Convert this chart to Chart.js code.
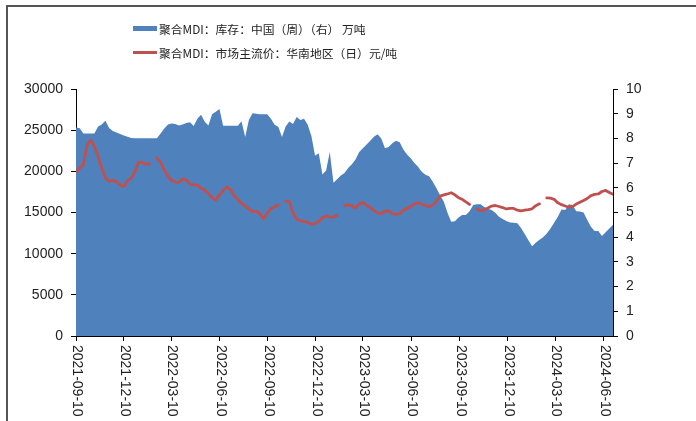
<!DOCTYPE html>
<html>
<head>
<meta charset="utf-8">
<script src="https://cdn.jsdelivr.net/npm/chart.js@4.4.1/dist/chart.umd.min.js"></script>
<style>
  html, body { margin: 0; padding: 0; background: #fff; }
  #wrap { position: relative; width: 696px; height: 421px; overflow: hidden; background: #fff; }
  #c { position: absolute; left: 0; top: 0; }
  #frame { position: absolute; left: 6px; top: 5px; width: 700px; height: 430px;
           border-left: 2px solid #555; border-top: 2px solid #555; pointer-events: none; }
  #legend { position: absolute; left: 133px; top: 18px; font-family: "Noto Sans CJK SC", sans-serif;
            font-size: 11.8px; color: #222; }
  .row { display: flex; align-items: center; height: 20px; margin-bottom: 4px; white-space: nowrap; }
  .sw { display: inline-block; width: 24px; margin-right: 2px; }
</style>
</head>
<body>
<div id="wrap">
  <canvas id="c" width="696" height="421"></canvas>
  <div id="frame"></div>
  <div id="legend"></div>
</div>
<script>
// ---- data ----
const weeks = [
'2021-09-10','2021-09-17','2021-09-24','2021-10-01','2021-10-08','2021-10-15','2021-10-22','2021-10-29','2021-11-05','2021-11-12','2021-11-19','2021-11-26','2021-12-03','2021-12-10','2021-12-17','2021-12-24','2021-12-31',
'2022-01-07','2022-01-14','2022-01-21','2022-01-28','2022-02-04','2022-02-11','2022-02-18','2022-02-25','2022-03-04','2022-03-11','2022-03-18','2022-03-25','2022-04-01','2022-04-08','2022-04-15','2022-04-22','2022-04-29','2022-05-06','2022-05-13','2022-05-20','2022-05-27','2022-06-03','2022-06-10','2022-06-17','2022-06-24','2022-07-01','2022-07-08','2022-07-15','2022-07-22','2022-07-29','2022-08-05','2022-08-12','2022-08-19','2022-08-26','2022-09-02','2022-09-09','2022-09-16','2022-09-23','2022-09-30','2022-10-07','2022-10-14','2022-10-21','2022-10-28','2022-11-04','2022-11-11','2022-11-18','2022-11-25','2022-12-02','2022-12-09','2022-12-16','2022-12-23','2022-12-30',
'2023-01-06','2023-01-13','2023-01-20','2023-01-27','2023-02-03','2023-02-10','2023-02-17','2023-02-24','2023-03-03','2023-03-10','2023-03-17','2023-03-24','2023-03-31','2023-04-07','2023-04-14','2023-04-21','2023-04-28','2023-05-05','2023-05-12','2023-05-19','2023-05-26','2023-06-02','2023-06-09','2023-06-16','2023-06-23','2023-06-30','2023-07-07','2023-07-14','2023-07-21','2023-07-28','2023-08-04','2023-08-11','2023-08-18','2023-08-25','2023-09-01','2023-09-08','2023-09-15','2023-09-22','2023-09-29','2023-10-06','2023-10-13','2023-10-20','2023-10-27','2023-11-03','2023-11-10','2023-11-17','2023-11-24','2023-12-01','2023-12-08','2023-12-15','2023-12-22','2023-12-29',
'2024-01-05','2024-01-12','2024-01-19','2024-01-26','2024-02-02','2024-02-09','2024-02-16','2024-02-23','2024-03-01','2024-03-08','2024-03-15','2024-03-22','2024-03-29','2024-04-05','2024-04-12','2024-04-19','2024-04-26','2024-05-03','2024-05-10','2024-05-17','2024-05-24','2024-05-31','2024-06-07','2024-06-14','2024-06-21','2024-06-28'
];

// 聚合MDI 库存（万吨，右轴）
const inventory = [
8.44,8.41,8.2,8.2,8.2,8.2,8.48,8.56,8.71,8.42,
8.3,8.24,8.18,8.12,8.07,8.02,8.01,8.01,8.01,8.01,
8.01,8.01,8.01,8.2,8.4,8.56,8.6,8.58,8.52,8.56,
8.62,8.65,8.5,8.8,8.96,8.67,8.52,8.98,9.08,9.19,
8.51,8.51,8.51,8.51,8.51,8.69,8.06,8.75,9.02,9.0,
8.98,8.98,8.98,8.8,8.55,8.47,8.06,8.48,8.68,8.58,
8.87,8.75,8.8,8.55,8.1,7.3,7.4,6.54,6.7,7.45,
6.2,6.35,6.5,6.6,6.8,6.95,7.15,7.45,7.6,7.75,
7.9,8.07,8.17,8.0,7.6,7.65,7.8,7.9,7.84,7.55,
7.35,7.2,7.0,6.85,6.65,6.53,6.47,6.25,5.98,5.7,
5.44,4.99,4.63,4.65,4.8,4.9,4.9,5.05,5.3,5.33,
5.33,5.22,5.15,5.1,4.99,4.83,4.74,4.66,4.6,4.58,
4.56,4.37,4.13,3.88,3.63,3.78,3.9,4.0,4.15,4.35,
4.58,4.83,5.12,5.1,5.33,5.3,5.05,5.04,5.0,4.7,
4.42,4.25,4.25,4.05,4.2,4.35,4.5
];

// 聚合MDI 华南市场主流价（元/吨，左轴）
const price = [
19940,20400,20800,23200,23800,23000,21800,20400,19200,18800,
18900,18750,18350,18150,18850,19140,19950,21100,21100,20850,
20900,null,21640,21100,20150,19400,18900,18700,18650,19100,
18950,18450,18350,18350,17950,17720,17300,16800,16500,17150,
17700,18100,17800,17050,16550,16100,15800,15450,15120,15150,
14850,14250,14950,15450,15700,15950,null,16380,16320,14950,
14200,14000,13900,13800,13570,13650,13950,14350,14580,14450,
14450,14680,null,15850,15950,15800,15550,16050,16200,15900,
15600,15250,14950,14850,15150,15200,14850,14770,14850,15290,
15500,15720,16050,16200,16000,15850,15700,15900,16350,17000,
17130,17250,17400,17150,16800,16600,16300,15980,null,15420,
15230,15300,15550,15780,15850,15730,15600,15430,15500,15500,
15280,15200,15280,15340,15450,15830,16050,null,16780,16740,
16600,16170,15950,15790,15640,15700,16030,16250,16460,16700,
17050,17200,17250,17550,17680,17420,17220
];

const xTickLabels = ['2021-09-10','2021-12-10','2022-03-10','2022-06-10','2022-09-10','2022-12-10',
                     '2023-03-10','2023-06-10','2023-09-10','2023-12-10','2024-03-10','2024-06-10'];
const leftTicks = [0,5000,10000,15000,20000,25000,30000];
const rightTicks = [0,1,2,3,4,5,6,7,8,9,10];

const seriesNames = ['聚合MDI：库存：中国（周）（右） 万吨', '聚合MDI：市场主流价：华南地区（日）元/吨'];
const seriesColors = ['#4F81BD', '#C0504D'];

// ---- helpers ----
function dayOf(s) {
  const [y, m, d] = s.split('-').map(Number);
  return (Date.UTC(y, m - 1, d) - Date.UTC(2021, 8, 10)) / 86400000;
}
const xs = weeks.map(dayOf);
const tickFont = '14px "Liberation Sans", Arial, sans-serif';
const textColor = '#222';

const xLabelPlugin = {
  id: 'xLabels',
  afterDraw(chart) {
    const sx = chart.scales.x;
    const ctx = chart.ctx;
    ctx.save();
    ctx.font = tickFont;
    ctx.fillStyle = textColor;
    ctx.textAlign = 'left';
    ctx.textBaseline = 'middle';
    xTickLabels.forEach(l => {
      const px = sx.getPixelForValue(dayOf(l));
      ctx.save();
      ctx.translate(px + 1, sx.top + 9);
      ctx.rotate(Math.PI / 2);
      ctx.fillText(l, 0, 0);
      ctx.restore();
    });
    ctx.restore();
  }
};

const chart = new Chart(document.getElementById('c'), {
  type: 'line',
  data: {
    datasets: [
      {
        label: seriesNames[0],
        data: xs.map((x, i) => ({ x, y: inventory[i] })),
        yAxisID: 'yR',
        backgroundColor: seriesColors[0],
        borderColor: seriesColors[0],
        borderWidth: 0,
        fill: 'origin',
        pointRadius: 0,
        tension: 0,
        order: 2
      },
      {
        label: seriesNames[1],
        data: xs.map((x, i) => ({ x, y: price[i] })),
        yAxisID: 'y',
        borderColor: seriesColors[1],
        backgroundColor: seriesColors[1],
        borderWidth: 2.8,
        fill: false,
        pointRadius: 0,
        tension: 0,
        spanGaps: false,
        borderCapStyle: 'round',
        borderJoinStyle: 'round',
        order: 1
      }
    ]
  },
  options: {
    responsive: false,
    animation: false,
    devicePixelRatio: 1,
    layout: { padding: { top: 89, left: 0, right: 0, bottom: 0 } },
    plugins: { legend: { display: false }, tooltip: { enabled: false } },
    scales: {
      x: {
        type: 'linear',
        min: 0,
        max: dayOf(weeks[weeks.length - 1]),
        afterBuildTicks(scale) { scale.ticks = xTickLabels.map(l => ({ value: dayOf(l) })); },
        afterFit(scale) { scale.height = 85; },
        ticks: { display: false },
        grid: { drawOnChartArea: false, drawTicks: true, tickLength: 5, color: '#000', lineWidth: 1 },
        border: { display: true, color: '#000', width: 1 }
      },
      y: {
        position: 'left',
        min: 0, max: 30000,
        afterBuildTicks(scale) { scale.ticks = leftTicks.map(v => ({ value: v })); },
        afterFit(scale) { scale.width = 76; },
        ticks: { font: { family: '"Liberation Sans", Arial, sans-serif', size: 14 }, color: textColor, padding: 8,
                 callback: v => String(v) },
        grid: { drawOnChartArea: false, drawTicks: true, tickLength: 5, color: '#000' },
        border: { display: true, color: '#000', width: 1 }
      },
      yR: {
        position: 'right',
        min: 0, max: 10,
        afterBuildTicks(scale) { scale.ticks = rightTicks.map(v => ({ value: v })); },
        afterFit(scale) { scale.width = 83; },
        ticks: { font: { family: '"Liberation Sans", Arial, sans-serif', size: 14 }, color: textColor, padding: 8,
                 callback: v => String(v) },
        grid: { drawOnChartArea: false, drawTicks: true, tickLength: 5, color: '#000' },
        border: { display: true, color: '#000', width: 1 }
      }
    }
  },
  plugins: [xLabelPlugin]
});

// HTML legend built from the datasets
const legend = document.getElementById('legend');
chart.data.datasets.forEach((ds, i) => {
  const row = document.createElement('div');
  row.className = 'row';
  const sw = document.createElement('span');
  sw.className = 'sw';
  sw.style.height = i === 0 ? '5px' : '3px';
  sw.style.background = ds.borderColor;
  const t = document.createElement('span');
  t.textContent = ds.label;
  row.appendChild(sw);
  row.appendChild(t);
  legend.appendChild(row);
});
</script>
</body>
</html>
